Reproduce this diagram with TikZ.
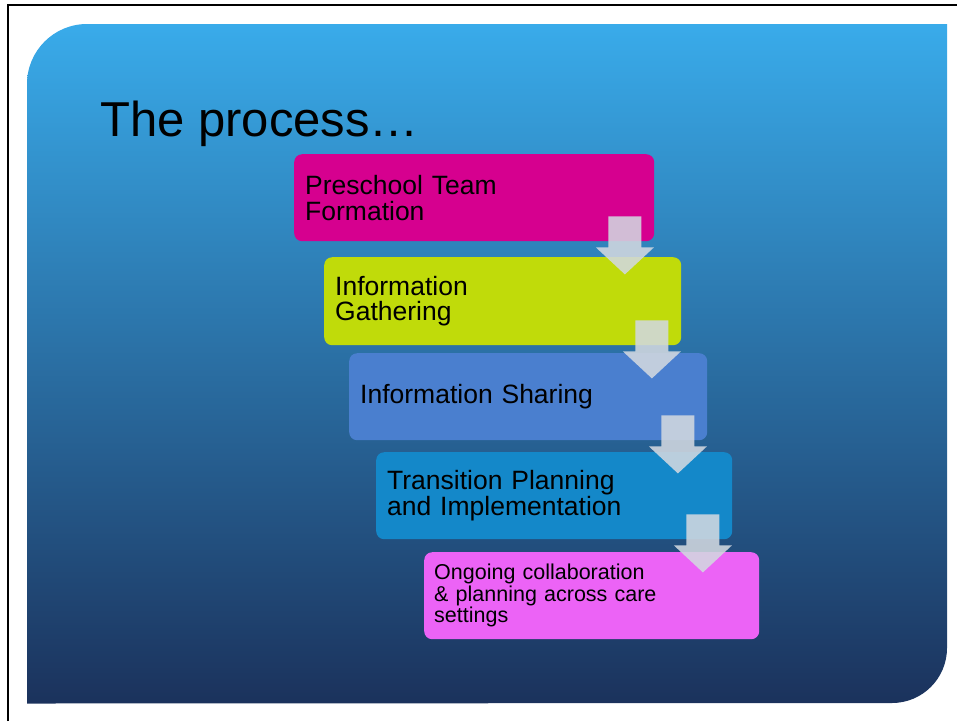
\documentclass[tikz,border=0pt]{standalone}
\usepackage{fontspec}
\setmainfont{Liberation Sans}
\usetikzlibrary{calc}

\definecolor{slidetop}{HTML}{39ABEA}
\definecolor{slidemid}{HTML}{2A78B2}
\definecolor{slidebot}{HTML}{1B325C}
\definecolor{teamfill}{HTML}{D6008F}
\definecolor{gatherfill}{HTML}{C0DB0A}
\definecolor{sharefill}{HTML}{4A7FCF}
\definecolor{planfill}{HTML}{1488C9}
\definecolor{ongoingfill}{HTML}{EC63F6}
\definecolor{arrowfill}{HTML}{D2D8E0}

\begin{document}
\begin{tikzpicture}[x=1pt,y=-1pt]
    \tikzstyle{stepbox}=[anchor=north west, rounded corners=8pt, inner xsep=11pt, inner ysep=0pt, minimum height=87pt, align=left, font=\fontsize{26.5}{25.8}\selectfont]
    \tikzstyle{downarrow}=[fill=arrowfill, fill opacity=0.88]
    \useasboundingbox (0,0) rectangle (957,721);
    % page frame
    \draw[line width=2.4pt] (8,721) -- (8,5) -- (957,5);
    % slide background, round at top left and bottom right
    \shade[top color=slidetop, middle color=slidemid, bottom color=slidebot]
        (27,703.5) -- (27,84) arc[start angle=180, end angle=270, radius=60]
        -- (947,24) -- (947,648) arc[start angle=0, end angle=90, radius=55] -- cycle;
    \node[anchor=base west, inner sep=0pt, font=\fontsize{49}{49}\selectfont] (title) at (100,136) {The process…};
    % the five steps
    \node[stepbox, fill=teamfill, text width=338pt] (team) at (294,154) {Preschool Team\\Formation};
    \node[stepbox, fill=gatherfill, text width=335pt, minimum height=88pt] (gather) at (324,257) {Information\\Gathering};
    \node[stepbox, fill=sharefill, text width=336pt] (share) at (349,353) {Information Sharing};
    \node[stepbox, fill=planfill, text width=334pt] (plan) at (376,452) {Transition Planning\\and Implementation};
    \node[stepbox, fill=ongoingfill, text width=313pt, inner xsep=10pt, text width=315pt, font=\fontsize{21.5}{21.5}\selectfont] (ongoing) at (424,552) {Ongoing collaboration\\\& planning across care\\settings};
    % block arrows hanging off each step
    \foreach \a/\b in {team/gather, gather/share, share/plan, plan/ongoing}
        \fill[downarrow, shift={($(\a.south east)+(-29.5,4)$)}]
            (-16.5,-29) -- (16.5,-29) -- (16.5,2) -- (29,2) -- (0,29) -- (-29,2) -- (-16.5,2) -- cycle;
\end{tikzpicture}
\end{document}
